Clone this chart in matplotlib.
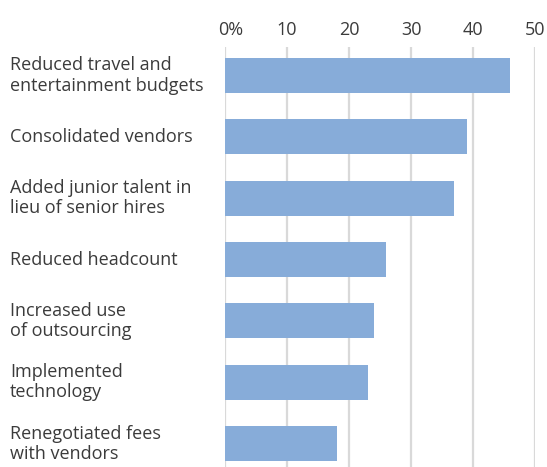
import matplotlib.pyplot as plt
import matplotlib.transforms as mtransforms

# Share of respondents taking each cost-cutting step (%)
actions = [
    "Reduced travel and\nentertainment budgets",
    "Consolidated vendors",
    "Added junior talent in\nlieu of senior hires",
    "Reduced headcount",
    "Increased use\nof outsourcing",
    "Implemented\ntechnology",
    "Renegotiated fees\nwith vendors",
]
shares = [46, 39, 37, 26, 24, 23, 18]
ticks = [0, 10, 20, 30, 40, 50]
tick_labels = ["0%", "10", "20", "30", "40", "50"]

bar_color = "#87acd9"
text_color = "#3b3b3b"
grid_color = "#d9d9d9"

plt.rcParams["font.family"] = ["Open Sans", "DejaVu Sans"]

fig = plt.figure(figsize=(5.47, 4.67), dpi=100)
ax = fig.add_axes([225 / 547, 0, 310 / 547, 420 / 467])

pos = list(range(len(actions)))
ax.barh(pos, shares, height=0.57, color=bar_color, zorder=3)

ax.set_xlim(0, 50)
ax.set_ylim(6.38, -0.465)

# light vertical gridlines, no spines
for t in ticks:
    ax.axvline(t, color=grid_color, linewidth=1.6, zorder=1)
for s in ax.spines.values():
    s.set_visible(False)

ax.xaxis.tick_top()
ax.set_xticks(ticks)
ax.set_xticklabels(tick_labels, fontsize=13, color=text_color)
ax.tick_params(axis="x", length=0, pad=6)
ax.set_yticks([])

# "0%" is placed so the zero sits over its gridline
first = ax.get_xticklabels()[0]
first.set_horizontalalignment("left")
first.set_transform(first.get_transform() + mtransforms.ScaledTranslation(-6.5 / 100, 0, fig.dpi_scale_trans))

# category labels, left aligned at the figure edge
label_tf = mtransforms.blended_transform_factory(fig.transFigure, ax.transData)
for p, name in zip(pos, actions):
    ax.text(10 / 547, p, name, transform=label_tf, ha="left", va="center",
            fontsize=13, color=text_color, linespacing=1.15)

fig.savefig("out.png", dpi=100)
